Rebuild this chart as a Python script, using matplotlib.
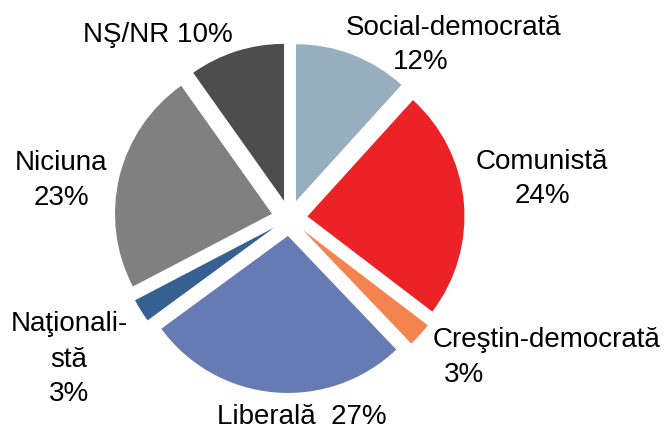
"""
Pie chart of party preference (exploded wedges, labels outside).
"""

import matplotlib
matplotlib.use("Agg")
import matplotlib.pyplot as plt

# shares; printed labels are the rounded values
parties = ["Social-democrată", "Comunistă", "Creştin-democrată", "Liberală",
           "Naţionalistă", "Niciuna", "NŞ/NR"]
shares = [11.7, 23.6, 2.5, 27.0, 2.4, 22.8, 9.8]
colors = ["#97aebe", "#ed2227", "#f4844f", "#667ab3", "#366092", "#808080", "#4d4d4d"]
label_lines = [
    ["Social-democrată", "12%"],
    ["Comunistă", "24%"],
    ["Creştin-democrată", "3%"],
    ["Liberală  27%"],
    ["Naţionali-", "stă", "3%"],
    ["Niciuna", "23%"],
    ["NŞ/NR 10%"],
]
# label line centres in pixels (x, y from top)
label_pos = [
    [(454, 28), (421, 62)],
    [(542, 162), (542, 196)],
    [(547, 340), (464, 375)],
    [(302, 417)],
    [(69, 324), (69, 360), (69, 394)],
    [(61, 163), (61, 198)],
    [(158, 35)],
]

W, H = 665, 429
fig = plt.figure(figsize=(W / 100, H / 100), dpi=100)
ax = fig.add_axes([0, 0, 1, 1])
ax.set_xlim(0, W)
ax.set_ylim(0, H)
ax.set_aspect("equal")
ax.axis("off")

ax.pie(shares, colors=colors, startangle=90, counterclock=False,
       center=(289.5, H - 218), radius=157, explode=[18] * len(shares),
       wedgeprops=dict(linewidth=0), frame=True)
ax.set_xlim(0, W)
ax.set_ylim(0, H)
ax.axis("off")

for lines, pos in zip(label_lines, label_pos):
    for txt, (x, y) in zip(lines, pos):
        ax.text(x, H - y, txt, ha="center", va="center", fontsize=20,
                family=["Liberation Sans", "DejaVu Sans"], color="black")

fig.savefig("out.png", dpi=100)
plt.close(fig)
